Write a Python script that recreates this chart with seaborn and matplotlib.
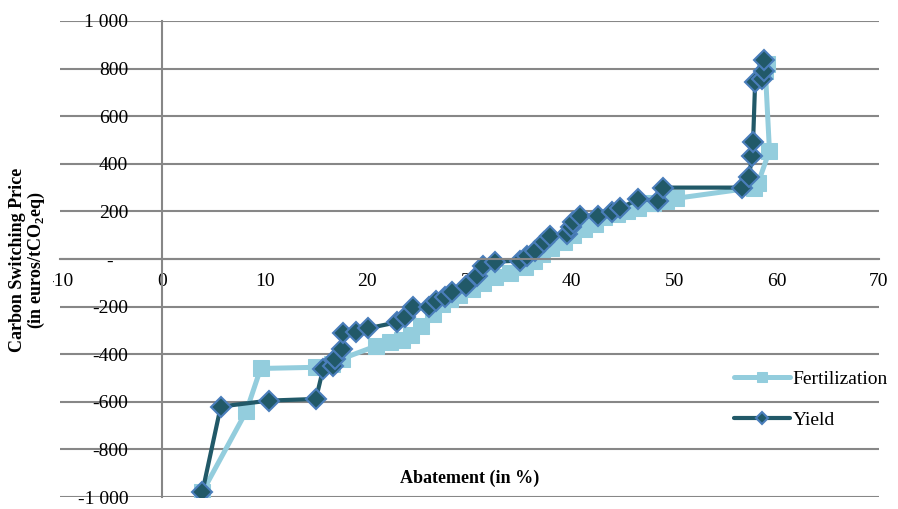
import matplotlib
matplotlib.use("Agg")
import matplotlib.pyplot as plt
import seaborn as sns
import pandas as pd
from matplotlib.transforms import Bbox, TransformedBbox

# data
fert_x = [3.9, 8.2, 9.6, 15.0, 16.6, 17.5, 20.9, 22.2, 23.4, 24.3, 25.3, 26.4, 27.3, 28.1,
          29.0, 30.2, 31.3, 32.5, 34.0, 35.4, 36.3, 37.1, 38.0, 39.2, 40.1, 41.2, 42.3, 43.1,
          44.4, 45.4, 46.5, 47.9, 49.2, 50.2, 57.8, 58.2, 59.3, 58.9, 59.1]
fert_y = [-980, -640, -460, -455, -440, -420, -365, -350, -340, -320, -280, -230, -190, -170,
          -150, -125, -100, -75, -60, -35, -10, 20, 45, 70, 100, 125, 145, 175,
          190, 200, 215, 235, 245, 255, 300, 320, 455, 790, 820]

yield_x = [3.9, 5.7, 10.4, 15.0, 15.7, 16.7, 16.9, 17.5, 17.6, 18.9, 20.1, 22.9, 23.7, 24.5,
           26.0, 26.7, 27.6, 28.3, 29.7, 30.7, 31.3, 32.5, 34.9, 35.6, 36.4, 37.3, 37.9, 39.5,
           39.9, 40.1, 40.8, 42.6, 43.9, 44.7, 46.5, 48.4, 48.9, 56.6, 57.3, 57.6, 57.7, 57.9,
           58.6, 58.8, 58.8]
yield_y = [-980, -620, -595, -588, -462, -450, -420, -378, -311, -308, -291, -266, -245, -203,
           -203, -178, -158, -137, -112, -70, -28, -11, -7, 14, 35, 70, 95, 105,
           133, 154, 182, 182, 196, 213, 252, 245, 300, 300, 346, 433, 493, 742,
           756, 791, 835]

x_ticks = [-10, 0, 10, 20, 30, 40, 50, 60, 70]
y_ticks = [-1000, -800, -600, -400, -200, 0, 200, 400, 600, 800, 1000]
y_labels = ["-1 000", "-800", "-600", "-400", "-200", "-   ", "200", "400", "600", "800", "1 000"]

sns.set_style("white")
plt.rcParams["font.family"] = ["Liberation Serif", "DejaVu Serif"]
plt.rcParams["mathtext.fontset"] = "custom"
plt.rcParams["mathtext.rm"] = "Liberation Serif"
plt.rcParams["mathtext.bf"] = "Liberation Serif:bold"
plt.rcParams["axes.unicode_minus"] = False
plt.rcParams["text.color"] = "black"
plt.rcParams["xtick.color"] = "black"
plt.rcParams["ytick.color"] = "black"

grey = "#878787"
fert_color = "#93CDDD"
yield_color = "#215968"

fig = plt.figure(figsize=(8.98, 5.09), dpi=100)
ax = fig.add_axes([60 / 898, 12 / 509, 819 / 898, 476 / 509])

fert = pd.DataFrame({"x": fert_x, "y": fert_y})
yld = pd.DataFrame({"x": yield_x, "y": yield_y})

sns.lineplot(data=fert, x="x", y="y", sort=False, estimator=None, ax=ax,
             color=fert_color, lw=3.6, marker="s", markersize=11,
             markeredgecolor=fert_color, label="Fertilization")
sns.lineplot(data=yld, x="x", y="y", sort=False, estimator=None, ax=ax,
             color=yield_color, lw=3.0, marker="D", markersize=10.5,
             markeredgecolor="#4A7EBB", markeredgewidth=1.5, label="Yield")

ax.set_xlim(-10, 70)
ax.set_ylim(-1000, 1000)

for s in ["top", "right"]:
    ax.spines[s].set_visible(False)
ax.spines["left"].set_position(("data", 0))
ax.spines["bottom"].set_position(("data", 0))
for s in ["left", "bottom"]:
    ax.spines[s].set_color(grey)
    ax.spines[s].set_linewidth(1.5)

for yv in y_ticks:
    ax.axhline(yv, color=grey, lw=1.5, zorder=0.5)

ax.set_yticks(y_ticks)
ax.set_yticklabels(y_labels, fontsize=14)
ax.tick_params(axis="y", length=0, pad=24.5)

ax.set_xticks(x_ticks)
ax.set_xticklabels([str(v) for v in x_ticks], fontsize=14)
ax.tick_params(axis="x", direction="out", length=4, width=1.2, color=grey,
               labelcolor="black", pad=6)
clip = TransformedBbox(Bbox([[53 / 898, 0], [1, 1]]), fig.transFigure)
for lbl in ax.get_xticklabels():
    lbl.set_clip_on(True)
    lbl.set_clip_box(clip)

ax.set_xlabel("Abatement (in %)", fontsize=13, fontweight="bold", color="black")
ax.xaxis.set_label_coords(0.5, 0.058)
ax.set_ylabel("")

fig.text(28 / 898, 1 - 260 / 509,
         "Carbon Switching Price\n(in euros/tCO$_{\\mathbf{2}}$eq)",
         rotation=90, ha="center", va="center", fontsize=13, fontweight="bold",
         linespacing=0.95)

ax.legend(loc="upper left", bbox_to_anchor=(716 / 898, 1 - 353 / 509),
          bbox_transform=fig.transFigure, frameon=False, fontsize=14,
          handlelength=2.9, handletextpad=0.15, labelspacing=1.2, markerscale=0.6)

fig.savefig("out.png", dpi=100)
